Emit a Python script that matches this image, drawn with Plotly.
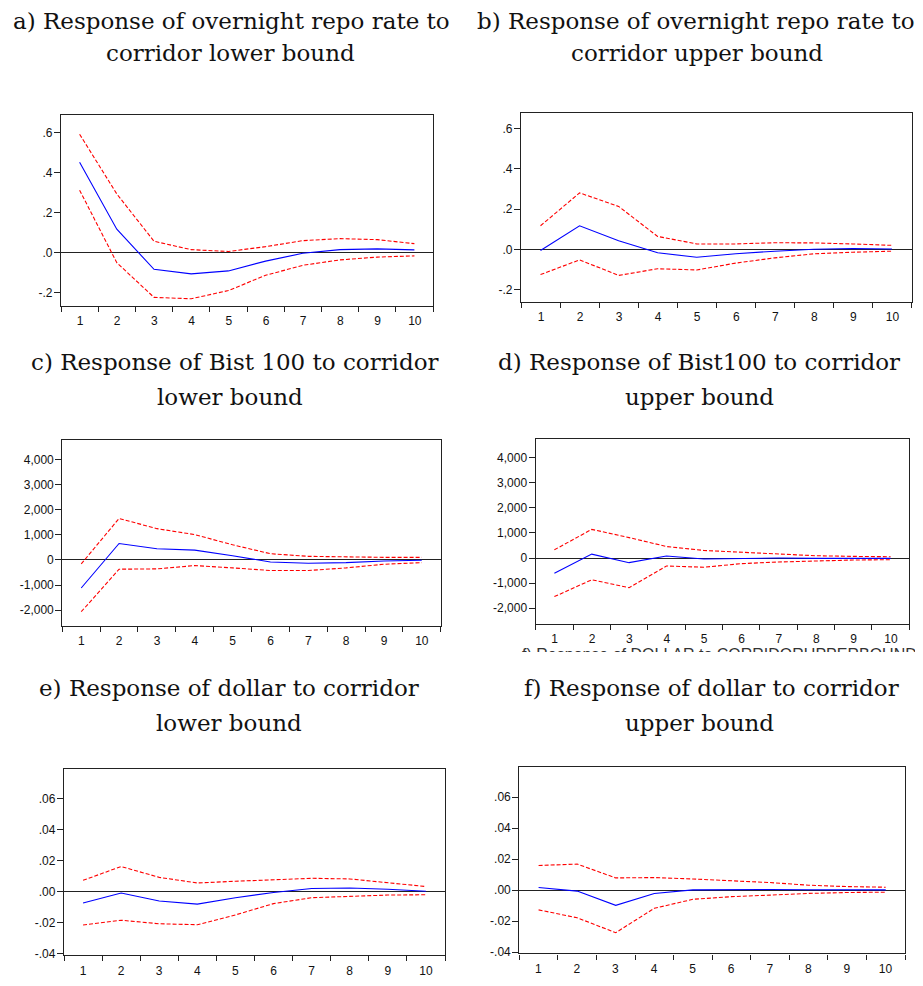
import plotly.graph_objects as go

# page is 923x986; the html body keeps its default 8px margin on every side,
# so the figure itself is 907x970 and page pixel p maps to figure pixel p - 8
OFF = 8
W, H = 923 - 2 * OFF, 986 - 2 * OFF

periods = list(range(1, 11))
period_labels = [str(p) for p in periods]

# a) overnight repo rate <- corridor lower bound
a_resp = [0.452, 0.118, -0.082, -0.105, -0.090, -0.041, -0.002, 0.016, 0.020, 0.015]
a_up = [0.592, 0.294, 0.058, 0.016, 0.007, 0.031, 0.061, 0.071, 0.066, 0.046]
a_lo = [0.313, -0.049, -0.222, -0.229, -0.188, -0.112, -0.062, -0.035, -0.021, -0.015]
# b) overnight repo rate <- corridor upper bound
b_resp = [-0.005, 0.118, 0.044, -0.016, -0.038, -0.021, -0.008, 0.002, 0.005, 0.003]
b_up = [0.118, 0.281, 0.214, 0.065, 0.028, 0.028, 0.034, 0.033, 0.028, 0.021]
b_lo = [-0.124, -0.051, -0.128, -0.095, -0.101, -0.067, -0.041, -0.021, -0.013, -0.008]
# c) Bist 100 <- corridor lower bound
c_resp = [-1114, 655, 446, 393, 170, -79, -131, -105, -39, -13]
c_up = [-157, 1651, 1245, 1009, 603, 249, 144, 118, 105, 105]
c_lo = [-2058, -367, -354, -223, -315, -419, -419, -315, -170, -105]
# d) Bist100 <- corridor upper bound
d_resp = [-604, 157, -184, 79, -39, -13, 0, -13, -13, -13]
d_up = [328, 1142, 814, 459, 302, 236, 171, 92, 66, 52]
d_lo = [-1535, -866, -1181, -315, -367, -223, -157, -105, -79, -66]
# e) dollar <- corridor lower bound
e_resp = [-0.0072, -0.0008, -0.0059, -0.0079, -0.0038, -0.0004, 0.0021, 0.0025, 0.0017, 0.0004]
e_up = [0.0074, 0.0163, 0.0093, 0.0057, 0.0068, 0.0076, 0.0087, 0.0083, 0.0059, 0.0034]
e_lo = [-0.0214, -0.0183, -0.0206, -0.0212, -0.0149, -0.0076, -0.0038, -0.0028, -0.0021, -0.0019]
# f) dollar <- corridor upper bound
f_resp = [0.0017, -0.0006, -0.0098, -0.0021, 0.0002, 0.0004, 0.0004, 0.0003, 0.0002, 0.0002]
f_up = [0.0159, 0.0168, 0.0079, 0.0081, 0.0072, 0.0062, 0.0049, 0.0032, 0.0023, 0.0019]
f_lo = [-0.0127, -0.0178, -0.0274, -0.0117, -0.0059, -0.0042, -0.0032, -0.0021, -0.0015, -0.0013]

repo_ticks = [-0.2, 0.0, 0.2, 0.4, 0.6]
repo_labels = ["-.2", ".0", ".2", ".4", ".6"]
bist_ticks = [-2000, -1000, 0, 1000, 2000, 3000, 4000]
bist_labels = ["-2,000", "-1,000", "0", "1,000", "2,000", "3,000", "4,000"]
usd_ticks = [-0.04, -0.02, 0.0, 0.02, 0.04, 0.06]
usd_labels = ["-.04", "-.02", ".00", ".02", ".04", ".06"]

titles = [
    ("a) Response of overnight repo rate to", "corridor lower bound"),
    ("b) Response of overnight repo rate to", "corridor upper bound"),
    ("c) Response of Bist 100 to corridor", "lower bound"),
    ("d) Response of Bist100 to corridor", "upper bound"),
    ("e) Response of dollar to corridor", "lower bound"),
    ("f) Response of dollar to corridor", "upper bound"),
]


def fx(p):
    return (p - OFF) / W


def fy(p):
    return 1 - (p - OFF) / H


panels = [
    # data, y-range, ticks, labels, box page-px (x0, x1, y0, y1), title line centres x, title line ys
    ((a_resp, a_up, a_lo), [-0.263, 0.689], repo_ticks, repo_labels, (61, 433, 116, 309), (231.5, 230), (21.5, 54)),
    ((b_resp, b_up, b_lo), [-0.258, 0.678], repo_ticks, repo_labels, (521, 911.5, 114, 305), (695.5, 697), (21.5, 54)),
    ((c_resp, c_up, c_lo), [-2610, 4757], bist_ticks, bist_labels, (62.3, 440.7, 445.3, 632.7), (235, 230), (366, 401)),
    ((d_resp, d_up, d_lo), [-2612, 4738], bist_ticks, bist_labels, (535.7, 909.3, 444, 630.7), (699, 699), (366, 401)),
    ((e_resp, e_up, e_lo), [-0.0408, 0.0794], usd_ticks, usd_labels, (64, 445, 777.3, 966), (229, 228.5), (696, 731)),
    ((f_resp, f_up, f_lo), [-0.0408, 0.0792], usd_ticks, usd_labels, (519.3, 905, 776, 964.3), (711.5, 699), (696, 731)),
]

fig = go.Figure()
axis_font = dict(family="Liberation Sans, Arial, sans-serif", size=12, color="#111")
title_font = dict(family="DejaVu Serif, serif", size=23, color="#111")
line_col = "#222222"
annotations = []

bounds = [p - 0.5 for p in periods] + [periods[-1] + 0.5]
bound_labels = period_labels + [""]

for i, (data, yr, yt, yl, box, tcx, tys) in enumerate(panels, start=1):
    resp, up, lo = data
    x0, x1, y0, y1 = box
    xa = "x" if i == 1 else f"x{i}"
    ya = "y" if i == 1 else f"y{i}"
    for vals, col, dash in ((up, "#ff0000", "4px,2px"), (lo, "#ff0000", "4px,2px"), (resp, "#0000ff", "solid")):
        fig.add_trace(go.Scatter(x=periods, y=vals, mode="lines", xaxis=xa, yaxis=ya,
                                 line=dict(color=col, width=1.1, dash=dash),
                                 showlegend=False, hoverinfo="skip"))
    shift = int(round((x1 - x0) / 20.0))
    fig.update_layout(**{
        f"xaxis{'' if i == 1 else i}": dict(
            domain=[fx(x0), fx(x1)], anchor=ya, range=[0.5, 10.5],
            tickmode="array", tickvals=bounds, ticktext=bound_labels,
            ticklabelshift=shift, ticklabelstandoff=-1,
            ticks="outside", ticklen=5, tickwidth=1, tickcolor=line_col,
            showline=True, mirror=True, linecolor=line_col, linewidth=1.3,
            showgrid=False, zeroline=False, tickfont=axis_font, fixedrange=True),
        f"yaxis{'' if i == 1 else i}": dict(
            domain=[fy(y1), fy(y0)], anchor=xa, range=yr,
            tickmode="array", tickvals=yt, ticktext=yl,
            ticks="outside", ticklen=6, tickwidth=1, tickcolor=line_col,
            ticklabelstandoff=-1,
            showline=True, mirror=True, linecolor=line_col, linewidth=1.3,
            showgrid=False, zeroline=True, zerolinecolor=line_col, zerolinewidth=1,
            tickfont=axis_font, fixedrange=True),
    })
    for txt, tx, ty in zip(titles[i - 1], tcx, tys):
        annotations.append(dict(text=txt, x=fx(tx), y=fy(ty), xref="paper", yref="paper",
                                xanchor="center", yanchor="middle", showarrow=False, font=title_font))

# stray, clipped caption visible under panel d in the source image (only its top edge shows)
annotations.append(dict(text="f) Response of DOLLAR to CORRIDORUPPERBOUND", x=fx(520), y=fy(651),
                        xref="paper", yref="paper", xanchor="left", yanchor="top", showarrow=False,
                        font=dict(family="Liberation Sans, Arial, sans-serif", size=16, color="#333")))
annotations.append(dict(text=" ", x=fx(495), y=fy(659), xref="paper", yref="paper",
                        xanchor="left", yanchor="top", showarrow=False, width=420, height=14,
                        bgcolor="white", borderpad=0, borderwidth=0,
                        font=dict(size=8)))

fig.update_layout(width=W, height=H, margin=dict(l=0, r=0, t=0, b=0),
                  paper_bgcolor="white", plot_bgcolor="white", annotations=annotations,
                  showlegend=False)

fig.write_html("out.html")
